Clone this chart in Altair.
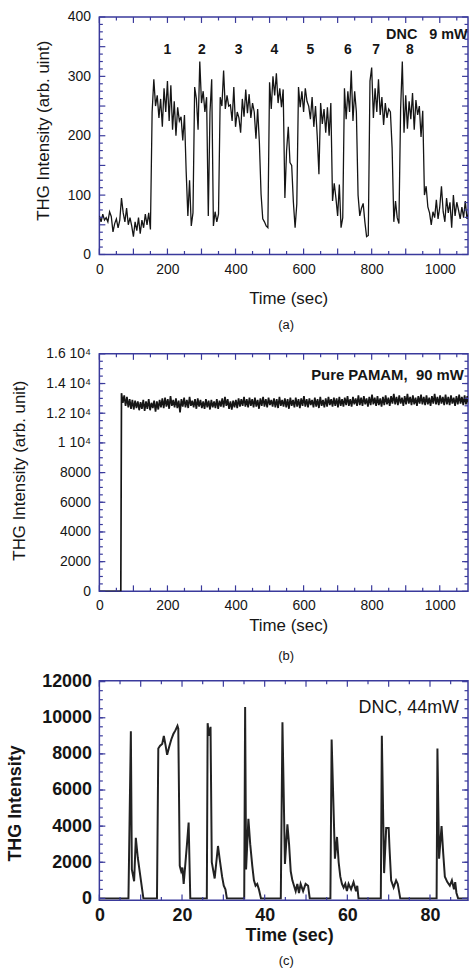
import altair as alt
import pandas as pd

FRAME = "#3a3a9c"
INK = "#151515"
FONT = "Liberation Sans"
W = 371

# ---------------- panel (a): DNC 9 mW ----------------
a_step = 5
a_values = [65, 55, 68, 58, 62, 55, 72, 64, 38, 52, 60, 45, 58, 95, 70, 55, 78, 50, 62, 48,
            30, 55, 40, 62, 35, 58, 45, 68, 50, 70,
            42, 240, 295, 250, 268, 230, 262, 215, 280, 240, 292, 225, 285, 210, 258, 200, 248, 225, 232, 192,
            235, 140, 65, 125, 48, 70, 282, 262, 210, 325, 255, 275, 240, 265, 65, 240, 295, 48, 72, 55,
            68, 265, 250, 310, 245, 268, 250, 252, 225, 282, 215, 240, 230, 205, 262, 232, 278, 238, 270, 230,
            255, 240, 195, 245, 190, 102, 60, 55, 48, 45, 290, 245, 300, 268, 305, 255, 280, 248, 278, 95,
            175, 215, 155, 150, 88, 45, 85, 282, 248, 275, 240, 280, 258, 250, 228, 265, 215, 250, 200, 135,
            255, 220, 245, 205, 248, 200, 255, 90, 120, 95, 65, 118, 45, 62, 280, 228, 275, 240, 310, 225,
            275, 240, 100, 65, 78, 86, 55, 30, 32, 292, 315, 230, 280, 240, 295, 235, 265, 218, 255, 230,
            245, 240, 180, 55, 90, 62, 52, 245, 325, 205, 268, 212, 258, 228, 272, 210, 260, 235, 250, 198,
            242, 100, 115, 80, 70, 50, 72, 62, 92, 60, 80, 115, 72, 55, 95, 70, 88, 45, 100, 65,
            88, 75, 60, 80, 62, 90, 60, 70]
a_time = [i * a_step for i in range(len(a_values))]
a_num_text = ["1", "2", "3", "4", "5", "6", "7", "8"]
a_num_t = [200, 301, 409, 514, 620, 730, 813, 912]
a_num_v = [345, 345, 345, 345, 345, 345, 345, 345]
a_note = ["DNC\u00a0\u00a0\u00a09 mW"]
a_note_t = [1082]
a_note_v = [370]
a_xlabels = [0, 200, 400, 600, 800, 1000]
a_ylabels = [0, 100, 200, 300, 400]

# ---------------- panel (b): Pure PAMAM 90 mW ----------------
b_pre_time = [0, 30, 63]
b_pre_values = [0, 0, 0]
b_step = 4
b_values = [
    13350, 12700, 13200, 12500, 13100, 12400, 12950, 12300, 12900, 12250, 12850, 12350, 12800, 12200, 12750, 12300,
    12900, 12150, 12800, 12300, 12950, 12200, 12700, 12350, 12850, 12100, 12800, 12250, 12900, 12400, 13000, 12350,
    13050, 12450, 12950, 12300, 13150, 12500, 12900, 12400, 13000, 12350, 12850, 12050, 12950, 12450, 13050, 12400,
    12900, 12350, 13100, 12500, 12850, 12400, 12950, 12300, 13000, 12450, 12900, 12350, 12800, 12300, 12950, 12400,
    12850, 12250, 12900, 12400, 12800, 12350, 12950, 12300, 12850, 12450, 13000, 12400, 13100, 12500, 12950, 12300,
    12800, 12250, 12850, 12400, 12900, 12350, 13000, 12450, 12950, 12500, 13100, 12450, 12950, 12400, 13050, 12500,
    12950, 12400, 13050, 12450, 12900, 12300, 13000, 12500, 13100, 12450, 12950, 12400, 13050, 12550, 12900, 12450,
    13000, 12400, 12950, 12350, 13100, 12500, 12900, 12450, 13000, 12400, 12950, 12300, 13050, 12500, 12900, 12400,
    13050, 12450, 12950, 12350, 13000, 12500, 13150, 12450, 12950, 12400, 13000, 12550, 12900, 12400, 13050, 12450,
    12950, 12350, 13100, 12500, 12900, 12400, 13000, 12450, 13100, 12550, 12950, 12450, 13050, 12500, 13000, 12400,
    13100, 12500, 12950, 12450, 13050, 12550, 13150, 12500, 12950, 12450, 13100, 12600, 13000, 12500, 13200, 12550,
    13050, 12500, 13150, 12600, 13000, 12450, 13100, 12550, 13250, 12600, 13050, 12500, 13150, 12550, 13000, 12450,
    13100, 12550, 13200, 12600, 13050, 12500, 13150, 12650, 13300, 12600, 13100, 12550, 13200, 12650, 13050, 12500,
    13150, 12600, 13300, 12650, 13100, 12550, 13200, 12600, 13050, 12500, 13150, 12650, 13250, 12600, 13100, 12550,
    13200, 12600, 13050, 12500, 13150, 12650, 13300, 12600, 13100, 12550, 13200, 12650, 13100, 12550, 13250, 12600,
    13100, 12550, 13200, 12650, 13050, 12500, 13150, 12600, 13250, 12650, 13100, 12550, 13200, 12600, 13150, 12650]
b_time = [65 + i * b_step for i in range(len(b_values))]
b_note = ["Pure PAMAM,\u00a0\u00a090 mW"]
b_note_t = [1071]
b_note_v = [14600]
b_xlabels = [0, 200, 400, 600, 800, 1000]
b_ylabels = [0, 2000, 4000, 6000, 8000, 10000, 12000, 14000, 16000]

# ---------------- panel (c): DNC 44 mW ----------------
c_time = [0, 7.04, 7.62, 7.86, 8.41, 8.82, 9.3, 9.86, 10.65,
          13.94, 14.26, 14.7, 15.2, 15.6, 16.0, 16.4, 16.9, 17.4, 17.9, 18.4, 18.9, 19.1, 19.45,
          19.8, 20.1, 20.4, 20.8, 21.2, 21.6, 22.0,
          26.0, 26.2, 26.5, 26.9, 27.2, 27.9, 28.7, 29.1, 29.7, 30.1, 30.5, 30.85,
          35.05, 35.27, 35.5, 36.06, 36.5, 37.0, 37.4, 37.8, 38.2, 38.6, 39.1,
          43.9, 44.3, 44.9, 45.5, 45.9, 46.3, 46.7, 47.1, 47.5, 47.9, 48.3, 48.7, 49.3, 49.9, 50.5, 50.9,
          55.9, 56.2, 57.0, 57.5, 57.9, 58.3, 58.7, 59.1, 59.5, 59.9, 60.3, 60.9, 61.5, 62.1, 62.4, 62.7,
          68.1, 68.35, 68.9, 69.4, 70.0, 70.2, 70.6, 71.2, 71.8, 72.2, 72.8,
          81.6, 81.8, 82.2, 82.8, 83.2, 83.6, 84.2, 84.8, 85.3, 85.8, 86.1, 86.4, 86.8, 89.2]
c_values = [0, 0, 9250, 1600, 950, 3350, 2250, 1320, 0,
            0, 8300, 8450, 8550, 9000, 8500, 7950, 8400, 8800, 9100, 9300, 9550, 9400, 1800,
            1500, 1700, 800, 1900, 3000, 4200, 0,
            0, 9700, 9000, 9500, 2000, 1100, 2900, 2200, 1200, 700, 500, 0,
            0, 10600, 1600, 4400, 3000, 1800, 1000, 700, 800, 500, 0,
            0, 9750, 1900, 4100, 3000, 1500, 1000, 700, 400, 800, 300, 800, 400, 800, 700, 0,
            0, 8800, 2200, 3400, 2000, 1200, 800, 600, 800, 400, 800, 500, 900, 400, 700, 0,
            0, 9000, 1400, 3900, 3900, 2800, 1000, 600, 1000, 800, 0,
            0, 8300, 2200, 4000, 2500, 1200, 900, 700, 1000, 500, 900, 300, 0, 0]
c_note = ["DNC, 44mW"]
c_note_t = [87.0]
c_note_v = [10530]
c_xlabels = [0, 20, 40, 60, 80]
c_ylabels = [0, 2000, 4000, 6000, 8000, 10000, 12000]


def axis_x(values, title, lsize, tsize, weight, lpad, tx, ty):
    return alt.Axis(values=values, title=title, ticks=False, domain=False, grid=False,
                    labelFont=FONT, labelFontSize=lsize, labelFontWeight=weight, labelColor=INK,
                    labelPadding=lpad, labelFlush=False, labelOverlap=False, format="d",
                    titleFont=FONT, titleFontSize=tsize, titleFontWeight=weight, titleColor=INK,
                    titleX=tx, titleY=ty, titleBaseline="middle", titleAlign="center")


def axis_y(values, title, lsize, tsize, weight, lpad, tx, ty, expr=None):
    kw = dict(values=values, title=title, ticks=False, domain=False, grid=False,
              labelFont=FONT, labelFontSize=lsize, labelFontWeight=weight, labelColor=INK,
              labelPadding=lpad, labelFlush=False, labelOverlap=False,
              titleFont=FONT, titleFontSize=tsize, titleFontWeight=weight, titleColor=INK,
              titleX=tx, titleY=ty, titleBaseline="middle", titleAlign="center", titleAngle=270)
    if expr:
        kw["labelExpr"] = expr
    else:
        kw["format"] = "d"
    return alt.Axis(**kw)


def tick_layers(X, Y, xmaj, xmin, ymaj, ymin, H, major=6, minor=3.5):
    out = []
    for vals, L in ((xmaj, major), (xmin, minor)):
        base = alt.Chart(pd.DataFrame({"t": vals})).mark_rule(color=FRAME, strokeWidth=1.2)
        out.append(base.encode(x=X, y=alt.value(H), y2=alt.value(H - L)))
        out.append(base.encode(x=X, y=alt.value(0), y2=alt.value(L)))
    for vals, L in ((ymaj, major), (ymin, minor)):
        base = alt.Chart(pd.DataFrame({"v": vals})).mark_rule(color=FRAME, strokeWidth=1.2)
        out.append(base.encode(y=Y, x=alt.value(0), x2=alt.value(L)))
        out.append(base.encode(y=Y, x=alt.value(W), x2=alt.value(W - L)))
    return out


def spacer(x, y):
    return alt.Chart(pd.DataFrame({"s": [0]})).mark_rule(color="white", strokeOpacity=0).encode(
        x=alt.value(x), x2=alt.value(x + 1), y=alt.value(y), y2=alt.value(y + 1))


def caption(txt, y):
    return alt.Chart(pd.DataFrame({"c": [txt]})).mark_text(
        font=FONT, fontSize=13, color=INK, align="center", baseline="middle").encode(
        text="c:N", x=alt.value(188), y=alt.value(y))


def note(texts, ts, vs, X, Y, size, weight, align):
    return alt.Chart(pd.DataFrame({"t": ts, "v": vs, "s": texts})).mark_text(
        font=FONT, fontSize=size, fontWeight=weight, color=INK, align=align, baseline="middle").encode(
        x=X, y=Y, text="s:N")


# ---- panel (a)
HA = 239
XA = alt.X("t:Q", scale=alt.Scale(domain=[0, 1083], nice=False, zero=False),
           axis=axis_x(a_xlabels, "Time (sec)", 14, 17, "normal", 8, 190, 44))
YA = alt.Y("v:Q", scale=alt.Scale(domain=[0, 400], nice=False),
           axis=axis_y(a_ylabels, "THG Intensity (arb. uint)", 14, 17, "normal", 9, -56, 114))
line_a = alt.Chart(pd.DataFrame({"t": a_time, "v": a_values})).mark_line(
    color=INK, strokeWidth=1.3, clip=True).encode(x=XA, y=YA)
ticks_a = tick_layers(XA, YA, list(range(0, 1001, 100)), list(range(50, 1051, 100)),
                      list(range(0, 401, 50)), [v * 12.5 for v in range(1, 32) if v % 4],
                      HA)
panel_a = alt.layer(
    line_a, *ticks_a,
    note(a_num_text, a_num_t, a_num_v, XA, YA, 14, "bold", "center"),
    note(a_note, a_note_t, a_note_v, XA, YA, 14.5, "bold", "right"),
    caption("(a)", HA + 71),
    spacer(-99, -13), spacer(0, HA + 84),
).properties(width=W, height=HA)

# ---- panel (b)
HB = 239
XB = alt.X("t:Q", scale=alt.Scale(domain=[0, 1083], nice=False, zero=False),
           axis=axis_x(b_xlabels, "Time (sec)", 14, 17, "normal", 7.5, 190, 34))
YB = alt.Y("v:Q", scale=alt.Scale(domain=[0, 16000], nice=False),
           axis=axis_y(b_ylabels, "THG Intensity (arb. unit)", 14, 17, "normal", 9, -80, 117,
                       expr="datum.value >= 10000 ? (datum.value / 10000) + ' 10\u2074' : '' + datum.value"))
line_b = alt.Chart(pd.DataFrame({"t": b_pre_time + b_time, "v": b_pre_values + b_values})).mark_line(
    color=INK, strokeWidth=1.7, clip=True).encode(x=XB, y=YB)
ticks_b = tick_layers(XB, YB, list(range(0, 1001, 100)), list(range(50, 1051, 100)),
                      list(range(0, 16001, 2000)), list(range(500, 16000, 500)),
                      HB)
panel_b = alt.layer(
    line_b, *ticks_b,
    note(b_note, b_note_t, b_note_v, XB, YB, 15, "bold", "right"),
    caption("(b)", HB + 65),
    spacer(0, -13), spacer(0, HB + 74),
).properties(width=W, height=HB)

# ---- panel (c)
HC = 221
XC = alt.X("t:Q", scale=alt.Scale(domain=[0, 89.2], nice=False, zero=False),
           axis=axis_x(c_xlabels, "Time (sec)", 18, 18, "bold", 6, 191, 35))
YC = alt.Y("v:Q", scale=alt.Scale(domain=[-110, 12050], nice=False, zero=False),
           axis=axis_y(c_ylabels, "THG Intensity", 18, 18, "bold", 8, -84, 123))
line_c = alt.Chart(pd.DataFrame({"t": c_time, "v": c_values})).mark_line(
    color="#222222", strokeWidth=2.0, clip=True).encode(x=XC, y=YC)
ticks_c = tick_layers(XC, YC, list(range(0, 81, 10)), list(range(5, 90, 10)),
                      list(range(0, 12001, 2000)), list(range(500, 12000, 500)),
                      HC)
panel_c = alt.layer(
    line_c, *ticks_c,
    note(c_note, c_note_t, c_note_v, XC, YC, 18, "normal", "right"),
    caption("(c)", HC + 61),
    spacer(0, -13),
).properties(width=W, height=HC)

chart = alt.vconcat(panel_a, panel_b, panel_c, spacing=0, bounds="full").properties(
    padding={"left": 0, "top": 0, "right": 0, "bottom": 0},
    background="white",
).configure_view(stroke=FRAME, strokeWidth=1.5)

chart.save("out.html", embed_options={"renderer": "svg", "actions": False})
